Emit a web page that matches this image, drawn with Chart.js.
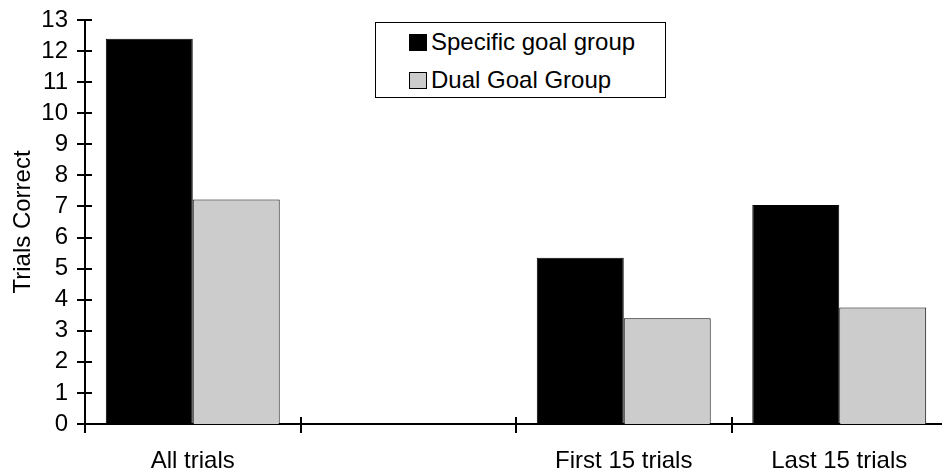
<!DOCTYPE html>
<html>
<head>
<meta charset="utf-8">
<script src="https://cdn.jsdelivr.net/npm/chart.js@4"></script>
<style>
  html, body { margin: 0; padding: 0; background: #fff; overflow: hidden; }
  #wrap { position: relative; width: 948px; height: 473px; }
  #legend {
    position: absolute; left: 375px; top: 22px; width: 289px; height: 74px;
    border: 1.5px solid #000; background: #fff;
    font-family: "Liberation Sans", Arial, sans-serif; font-size: 24px; color: #000;
  }
  #legend .row { position: absolute; left: 33px; display: flex; align-items: center; white-space: nowrap; }
  #legend .sw { width: 18px; height: 17px; box-sizing: border-box; border: 1px solid #000; margin-right: 4px; }
</style>
</head>
<body>
<div id="wrap">
  <canvas id="c" width="948" height="473"></canvas>
  <div id="legend"></div>
</div>
<script>
// values
const categories = ['All trials', '', 'First 15 trials', 'Last 15 trials'];
const specificGoal = [12.4, null, 5.35, 7.05];
const dualGoal = [7.22, null, 3.4, 3.75];
const yTicks = [0, 1, 2, 3, 4, 5, 6, 7, 8, 9, 10, 11, 12, 13];

const FONT = '"Liberation Sans", Arial, sans-serif';

// tick marks that cross the axis lines, as in the original
const crossTicks = {
  id: 'crossTicks',
  afterDraw(chart) {
    const { ctx, chartArea, scales } = chart;
    ctx.save();
    ctx.strokeStyle = '#000';
    ctx.lineWidth = 2;
    ctx.beginPath();
    scales.y.ticks.forEach(t => {
      const y = Math.round(scales.y.getPixelForValue(t.value));
      ctx.moveTo(chartArea.left - 8, y);
      ctx.lineTo(chartArea.left + 7, y);
    });
    const x = scales.x;
    const half = (x.getPixelForValue(1) - x.getPixelForValue(0)) / 2;
    for (let i = 0; i <= categories.length; i++) {
      const px = Math.round(x.getPixelForValue(i) - half);
      ctx.moveTo(px, chartArea.bottom - 7);
      ctx.lineTo(px, chartArea.bottom + 9);
    }
    ctx.stroke();
    ctx.restore();
  }
};

const chart = new Chart(document.getElementById('c'), {
  type: 'bar',
  data: {
    labels: categories,
    datasets: [
      {
        label: 'Specific goal group',
        data: specificGoal,
        backgroundColor: '#000000',
        borderColor: '#000000',
        borderWidth: 1,
      },
      {
        label: 'Dual Goal Group',
        data: dualGoal,
        backgroundColor: '#cccccc',
        borderColor: '#000000',
        borderWidth: 1,
      },
    ],
  },
  options: {
    responsive: false,
    animation: false,
    layout: { padding: { top: 20, right: 1, left: 0, bottom: 0 } },
    datasets: { bar: { categoryPercentage: 0.807, barPercentage: 1.0 } },
    plugins: { legend: { display: false }, tooltip: { enabled: false } },
    scales: {
      x: {
        grid: { display: false, drawTicks: false },
        border: { display: true, color: '#000', width: 2 },
        ticks: { color: '#000', font: { family: FONT, size: 24 }, padding: 23, maxRotation: 0, autoSkip: false },
        afterFit(s) { s.height = 49; s.paddingLeft = 0; s.paddingRight = 0; },
      },
      y: {
        min: 0, max: 13,
        afterBuildTicks(s) { s.ticks = yTicks.map(v => ({ value: v })); },
        grid: { display: false, drawTicks: false },
        border: { display: true, color: '#000', width: 2 },
        ticks: { color: '#000', font: { family: FONT, size: 24 }, padding: 17, autoSkip: false },
        title: { display: true, text: 'Trials Correct', color: '#000', font: { family: FONT, size: 24 }, padding: { top: 9, bottom: 0 } },
        afterFit(s) { s.width = 85; s.paddingTop = 0; s.paddingBottom = 0; },
      },
    },
  },
  plugins: [crossTicks],
});

// legend box built from the datasets
const legend = document.getElementById('legend');
chart.data.datasets.forEach((ds, i) => {
  const row = document.createElement('div');
  row.className = 'row';
  row.style.top = (i === 0 ? 5 : 43) + 'px';
  row.innerHTML = '<span class="sw" style="background:' + ds.backgroundColor + '"></span><span>' + ds.label + '</span>';
  legend.appendChild(row);
});
</script>
</body>
</html>
